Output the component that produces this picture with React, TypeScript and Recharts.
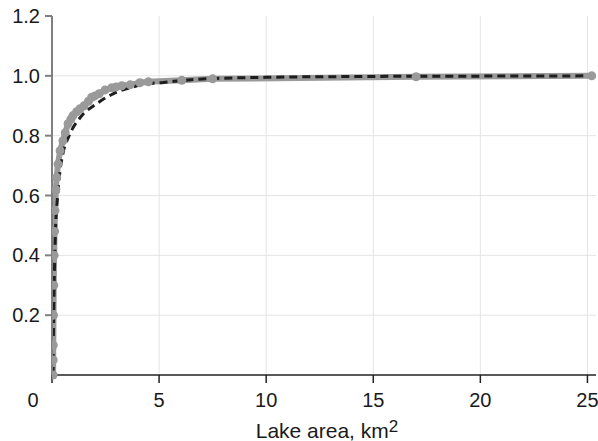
import { LineChart, Line, XAxis, YAxis, CartesianGrid, Label } from 'recharts';

// observed cumulative fraction of lake area (grey points)
const observedArea = [0.05, 0.055, 0.06, 0.07, 0.08, 0.1, 0.12, 0.14, 0.18, 0.22, 0.28, 0.38, 0.51, 0.62, 0.75, 0.88, 0.98, 1.15, 1.31, 1.5, 1.7, 1.85, 2.0, 2.2, 2.48, 2.79, 3.0, 3.26, 3.65, 4.1, 4.5, 6.06, 7.5, 17.0, 25.2];
const observedFrac = [0.0, 0.05, 0.1, 0.2, 0.3, 0.4, 0.48, 0.55, 0.62, 0.66, 0.705, 0.75, 0.783, 0.81, 0.84, 0.855, 0.867, 0.88, 0.89, 0.9, 0.915, 0.928, 0.933, 0.94, 0.953, 0.96, 0.963, 0.967, 0.97, 0.977, 0.98, 0.985, 0.99, 0.997, 1.0];

// fitted curve (dashed)
const fitArea = [0.05, 0.06, 0.08, 0.1, 0.13, 0.17, 0.22, 0.29, 0.37, 0.51, 0.8, 1.31, 2.09, 2.85, 3.64, 4.42, 5.2, 6.5, 8, 10, 15, 20, 25.3];
const fitFrac = [0.0, 0.1, 0.2, 0.3, 0.4, 0.5, 0.56, 0.62, 0.68, 0.74, 0.8, 0.86, 0.907, 0.94, 0.96, 0.973, 0.978, 0.987, 0.992, 0.995, 0.998, 0.999, 1.0];

const xTicks = [0, 5, 10, 15, 20, 25];
const yTicks = [0.2, 0.4, 0.6, 0.8, 1.0, 1.2];

const observed = observedArea.map((x, i) => ({ x, y: observedFrac[i] }));
const fit = fitArea.map((x, i) => ({ x, y: fitFrac[i] }));

const font = '"Liberation Sans", Arial, sans-serif';

function XTick(props: any) {
  const { x, y, payload } = props;
  const shift = payload.value === 0 ? -19 : 0;
  return (
    <text x={x + shift} y={y} dy="0.71em" textAnchor="middle" fill="#1a1a1a" fontSize={20} fontFamily={font}>
      {payload.value}
    </text>
  );
}

export default function App() {
  return (
    <div style={{ position: 'absolute', left: 0, top: 0, background: '#fff' }}>
      <LineChart width={598} height={441} margin={{ top: 16, right: 2, bottom: 0, left: 0 }}>
        <CartesianGrid stroke="#e4e4e4" strokeWidth={1} horizontalValues={[0.2, 0.4, 0.6, 0.8, 1.0]} verticalValues={[5, 10, 15, 20, 25]} />
        <XAxis
          dataKey="x"
          type="number"
          domain={[0, 25.4]}
          ticks={xTicks}
          allowDataOverflow
          stroke="#222"
          strokeWidth={1.5}
          tickSize={8}
          tickMargin={10}
          height={66}
          tick={<XTick />}
        >
          <Label
            content={() => (
              <text x={327} y={438} textAnchor="middle" fill="#1a1a1a" fontSize={21} fontFamily={font}>
                Lake area, km<tspan fontSize={17} dy={-6}>2</tspan>
              </text>
            )}
          />
        </XAxis>
        <YAxis
          type="number"
          domain={[0, 1.2]}
          ticks={yTicks}
          width={52}
          stroke="#808080"
          strokeWidth={2}
          tickSize={7}
          tickMargin={5}
          tickFormatter={(v: number) => v.toFixed(1)}
          tick={{ fill: '#1a1a1a', fontSize: 20, fontFamily: font }}
        />
        <Line
          data={observed}
          dataKey="y"
          type="linear"
          stroke="#9a9a9a"
          strokeWidth={6}
          dot={{ r: 4.5, fill: '#9a9a9a', stroke: 'none' }}
          isAnimationActive={false}
        />
        <Line
          data={fit}
          dataKey="y"
          type="monotone"
          stroke="#1e1e1e"
          strokeWidth={3}
          strokeDasharray="8 5"
          dot={false}
          isAnimationActive={false}
        />
      </LineChart>
    </div>
  );
}
